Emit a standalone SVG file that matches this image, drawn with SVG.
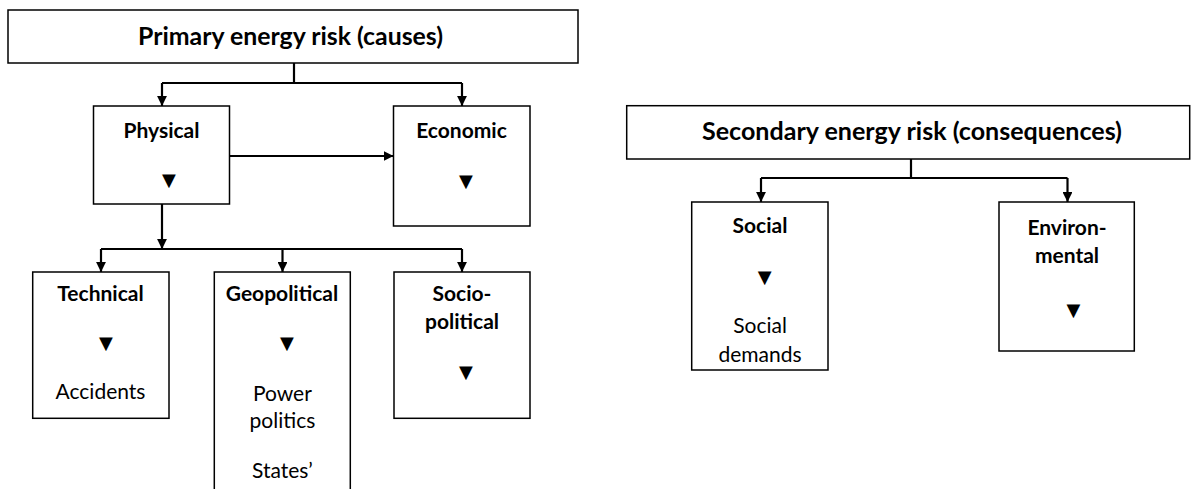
<svg xmlns="http://www.w3.org/2000/svg" width="1191" height="489" viewBox="0 0 1191 489">
<defs>
<marker id="ah" viewBox="0 0 10 10" refX="10" refY="5" markerWidth="4.5" markerHeight="4.5" markerUnits="strokeWidth" orient="auto">
<path d="M0,0 L10,5 L0,10 z" fill="#000"/>
</marker>
<style>
.box{fill:#fff;stroke:#000;stroke-width:1.5}
.title{font-family:Lato,"Liberation Sans",sans-serif;font-weight:bold;font-size:24.5px;text-anchor:middle;fill:#000}
.lbl{font-family:Lato,"Liberation Sans",sans-serif;font-weight:bold;font-size:21px;text-anchor:middle;fill:#000}
.txt{font-family:Lato,"Liberation Sans",sans-serif;font-size:21px;text-anchor:middle;fill:#000}
.tri{font-family:"DejaVu Sans",sans-serif;font-size:18px;text-anchor:middle;fill:#000}
.ln{fill:none;stroke:#000;stroke-width:2.2}
.ar{fill:none;stroke:#000;stroke-width:2.2;marker-end:url(#ah)}
</style>
</defs>
<rect width="1191" height="489" fill="#fff"/>
<g id="connectors">
<path class="ln" d="M294,63 V83 M162,83 H462"/>
<path class="ar" d="M162,83 V106"/>
<path class="ar" d="M462,83 V106"/>
<path class="ar" d="M229.5,156 H393.5"/>
<path class="ar" d="M162,204 V249"/>
<path class="ln" d="M101,249 H462"/>
<path class="ar" d="M101,249 V272"/>
<path class="ar" d="M282.5,249 V272"/>
<path class="ar" d="M462,249 V272"/>
<path class="ln" d="M911,159 V178 M761,178 H1067.5"/>
<path class="ar" d="M761,178 V202"/>
<path class="ar" d="M1067.5,178 V202"/>
</g>
<g id="primary">
<rect class="box" x="8" y="10" width="570" height="53"/>
<text class="title" x="290.5" y="45" textLength="305" lengthAdjust="spacingAndGlyphs">Primary energy risk (causes)</text>
</g>
<g id="physical">
<rect class="box" x="93.5" y="106" width="136" height="98"/>
<text class="lbl" x="161.5" y="138">Physical</text>
<text class="tri" x="168.8" y="186">▼</text>
</g>
<g id="economic">
<rect class="box" x="393.5" y="106" width="136.5" height="120"/>
<text class="lbl" x="461.5" y="138">Economic</text>
<text class="tri" x="466" y="187">▼</text>
</g>
<g id="technical">
<rect class="box" x="32.7" y="272" width="136.3" height="146.3"/>
<text class="lbl" x="100.5" y="301">Technical</text>
<text class="tri" x="106" y="349">▼</text>
<text class="txt" x="100.5" y="399.3">Accidents</text>
</g>
<g id="geopolitical">
<rect class="box" x="214.3" y="272" width="136" height="240"/>
<text class="lbl" x="282" y="301">Geopolitical</text>
<text class="tri" x="287" y="349">▼</text>
<text class="txt" x="282.4" y="401">Power</text>
<text class="txt" x="282.4" y="427.5">politics</text>
<text class="txt" x="282.4" y="478">States’</text>
</g>
<g id="sociopolitical">
<rect class="box" x="394" y="272" width="136" height="146.3"/>
<text class="lbl" x="462" y="300.7">Socio-</text>
<text class="lbl" x="462" y="329">political</text>
<text class="tri" x="466" y="378">▼</text>
</g>
<g id="secondary">
<rect class="box" x="626.7" y="105.7" width="563" height="53.3"/>
<text class="title" x="912" y="140" textLength="420" lengthAdjust="spacingAndGlyphs">Secondary energy risk (consequences)</text>
</g>
<g id="social">
<rect class="box" x="691.7" y="202" width="136.3" height="168"/>
<text class="lbl" x="760" y="233.3">Social</text>
<text class="tri" x="764.7" y="283">▼</text>
<text class="txt" x="760" y="333">Social</text>
<text class="txt" x="760" y="362">demands</text>
</g>
<g id="environmental">
<rect class="box" x="999" y="202" width="135.3" height="149"/>
<text class="lbl" x="1067" y="235">Environ-</text>
<text class="lbl" x="1067" y="263.3">mental</text>
<text class="tri" x="1073.3" y="316">▼</text>
</g>
</svg>
